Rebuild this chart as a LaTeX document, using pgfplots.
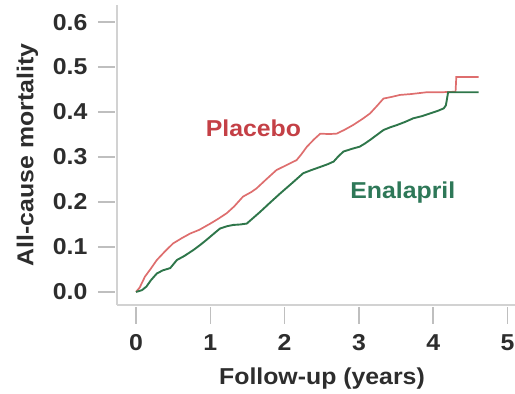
\documentclass[border=0pt]{standalone}
\usepackage{pgfplots}
\pgfplotsset{compat=1.18}
\usepackage{fontspec}
\setmainfont{Liberation Sans}[FakeStretch=1.08]
\definecolor{plc}{RGB}{222,110,110}
\definecolor{plt}{RGB}{196,64,70}
\definecolor{enc}{RGB}{46,118,74}
\definecolor{ent}{RGB}{46,120,88}
\definecolor{txt}{RGB}{45,45,45}
\begin{document}
\begin{tikzpicture}
\begin{axis}[
  scale only axis, width=398pt, height=300pt,
  xmin=-0.256, xmax=5.10, ymin=-0.029, ymax=0.638,
  axis lines*=left,
  axis line style={gray!35, line width=1.2pt, -},
  xtick={0,1,2,3,4,5},
  xticklabels={0,1,2,3,4,5},
  ytick={0,0.1,0.2,0.3,0.4,0.5,0.6},
  yticklabels={0.0,0.1,0.2,0.3,0.4,0.5,0.6},
  /pgf/number format/assume math mode=true,
  tick align=outside,
  major tick length=17pt,
  tick style={gray!50, line width=1.6pt},
  xtick style={yshift=-2pt},
  ytick style={xshift=-2pt},
  every tick label/.append style={font=\fontsize{23}{26}\selectfont\bfseries, text=txt},
  yticklabel style={xshift=-9pt},
  xticklabel style={yshift=-9pt},
  xlabel={Follow-up (years)},
  ylabel={All-cause mortality},
  label style={font=\fontsize{23}{26}\selectfont\bfseries, text=txt},
  xlabel style={at={(axis description cs:0.515,-0.245)}, anchor=center},
  ylabel style={at={(axis description cs:-0.225,0.5)}, anchor=center},
  clip=false,
]
\addplot[plc, line width=1.7pt] coordinates {
(0.00,0.000) (0.05,0.010) (0.12,0.034) (0.20,0.052) (0.28,0.071) (0.40,0.092)
(0.50,0.108) (0.62,0.120) (0.73,0.130) (0.85,0.138) (1.00,0.152) (1.10,0.162)
(1.22,0.175) (1.32,0.190) (1.44,0.212) (1.55,0.222) (1.62,0.230) (1.75,0.250)
(1.89,0.271) (2.00,0.280) (2.16,0.293) (2.22,0.305) (2.30,0.323) (2.40,0.340)
(2.48,0.352) (2.60,0.351) (2.70,0.352) (2.80,0.360) (2.92,0.371) (3.05,0.385)
(3.15,0.397) (3.25,0.415) (3.33,0.430) (3.45,0.434) (3.55,0.438) (3.70,0.440)
(3.91,0.444) (4.10,0.444) (4.27,0.445) (4.30,0.445) (4.31,0.478) (4.61,0.478)
};
\addplot[enc, line width=1.9pt] coordinates {
(0.00,0.000) (0.08,0.004) (0.14,0.012) (0.20,0.026) (0.28,0.041) (0.36,0.048)
(0.46,0.053) (0.55,0.071) (0.65,0.080) (0.77,0.093) (0.86,0.104) (0.95,0.116)
(1.05,0.130) (1.13,0.141) (1.22,0.146) (1.31,0.149) (1.40,0.150) (1.49,0.152)
(1.58,0.165) (1.67,0.178) (1.80,0.198) (1.94,0.219) (2.10,0.242) (2.25,0.264)
(2.36,0.271) (2.48,0.278) (2.58,0.284) (2.66,0.290) (2.72,0.301) (2.79,0.312)
(2.90,0.318) (3.01,0.323) (3.08,0.330) (3.15,0.338) (3.24,0.349) (3.33,0.360)
(3.42,0.366) (3.51,0.371) (3.62,0.378) (3.73,0.386) (3.85,0.391) (3.96,0.397)
(4.05,0.402) (4.14,0.408) (4.17,0.415) (4.20,0.444) (4.61,0.444)
};
\node[font=\fontsize{23}{26}\selectfont\bfseries, text=plt] at (axis cs:1.58,0.365) {Placebo};
\node[font=\fontsize{23}{26}\selectfont\bfseries, text=ent] at (axis cs:3.59,0.222) {Enalapril};
\end{axis}
\pgfresetboundingbox
\path[use as bounding box] ([shift={(-117pt,-89pt)}]current axis.south west) rectangle ([shift={(0pt,5pt)}]current axis.north east);
\end{tikzpicture}
\end{document}
